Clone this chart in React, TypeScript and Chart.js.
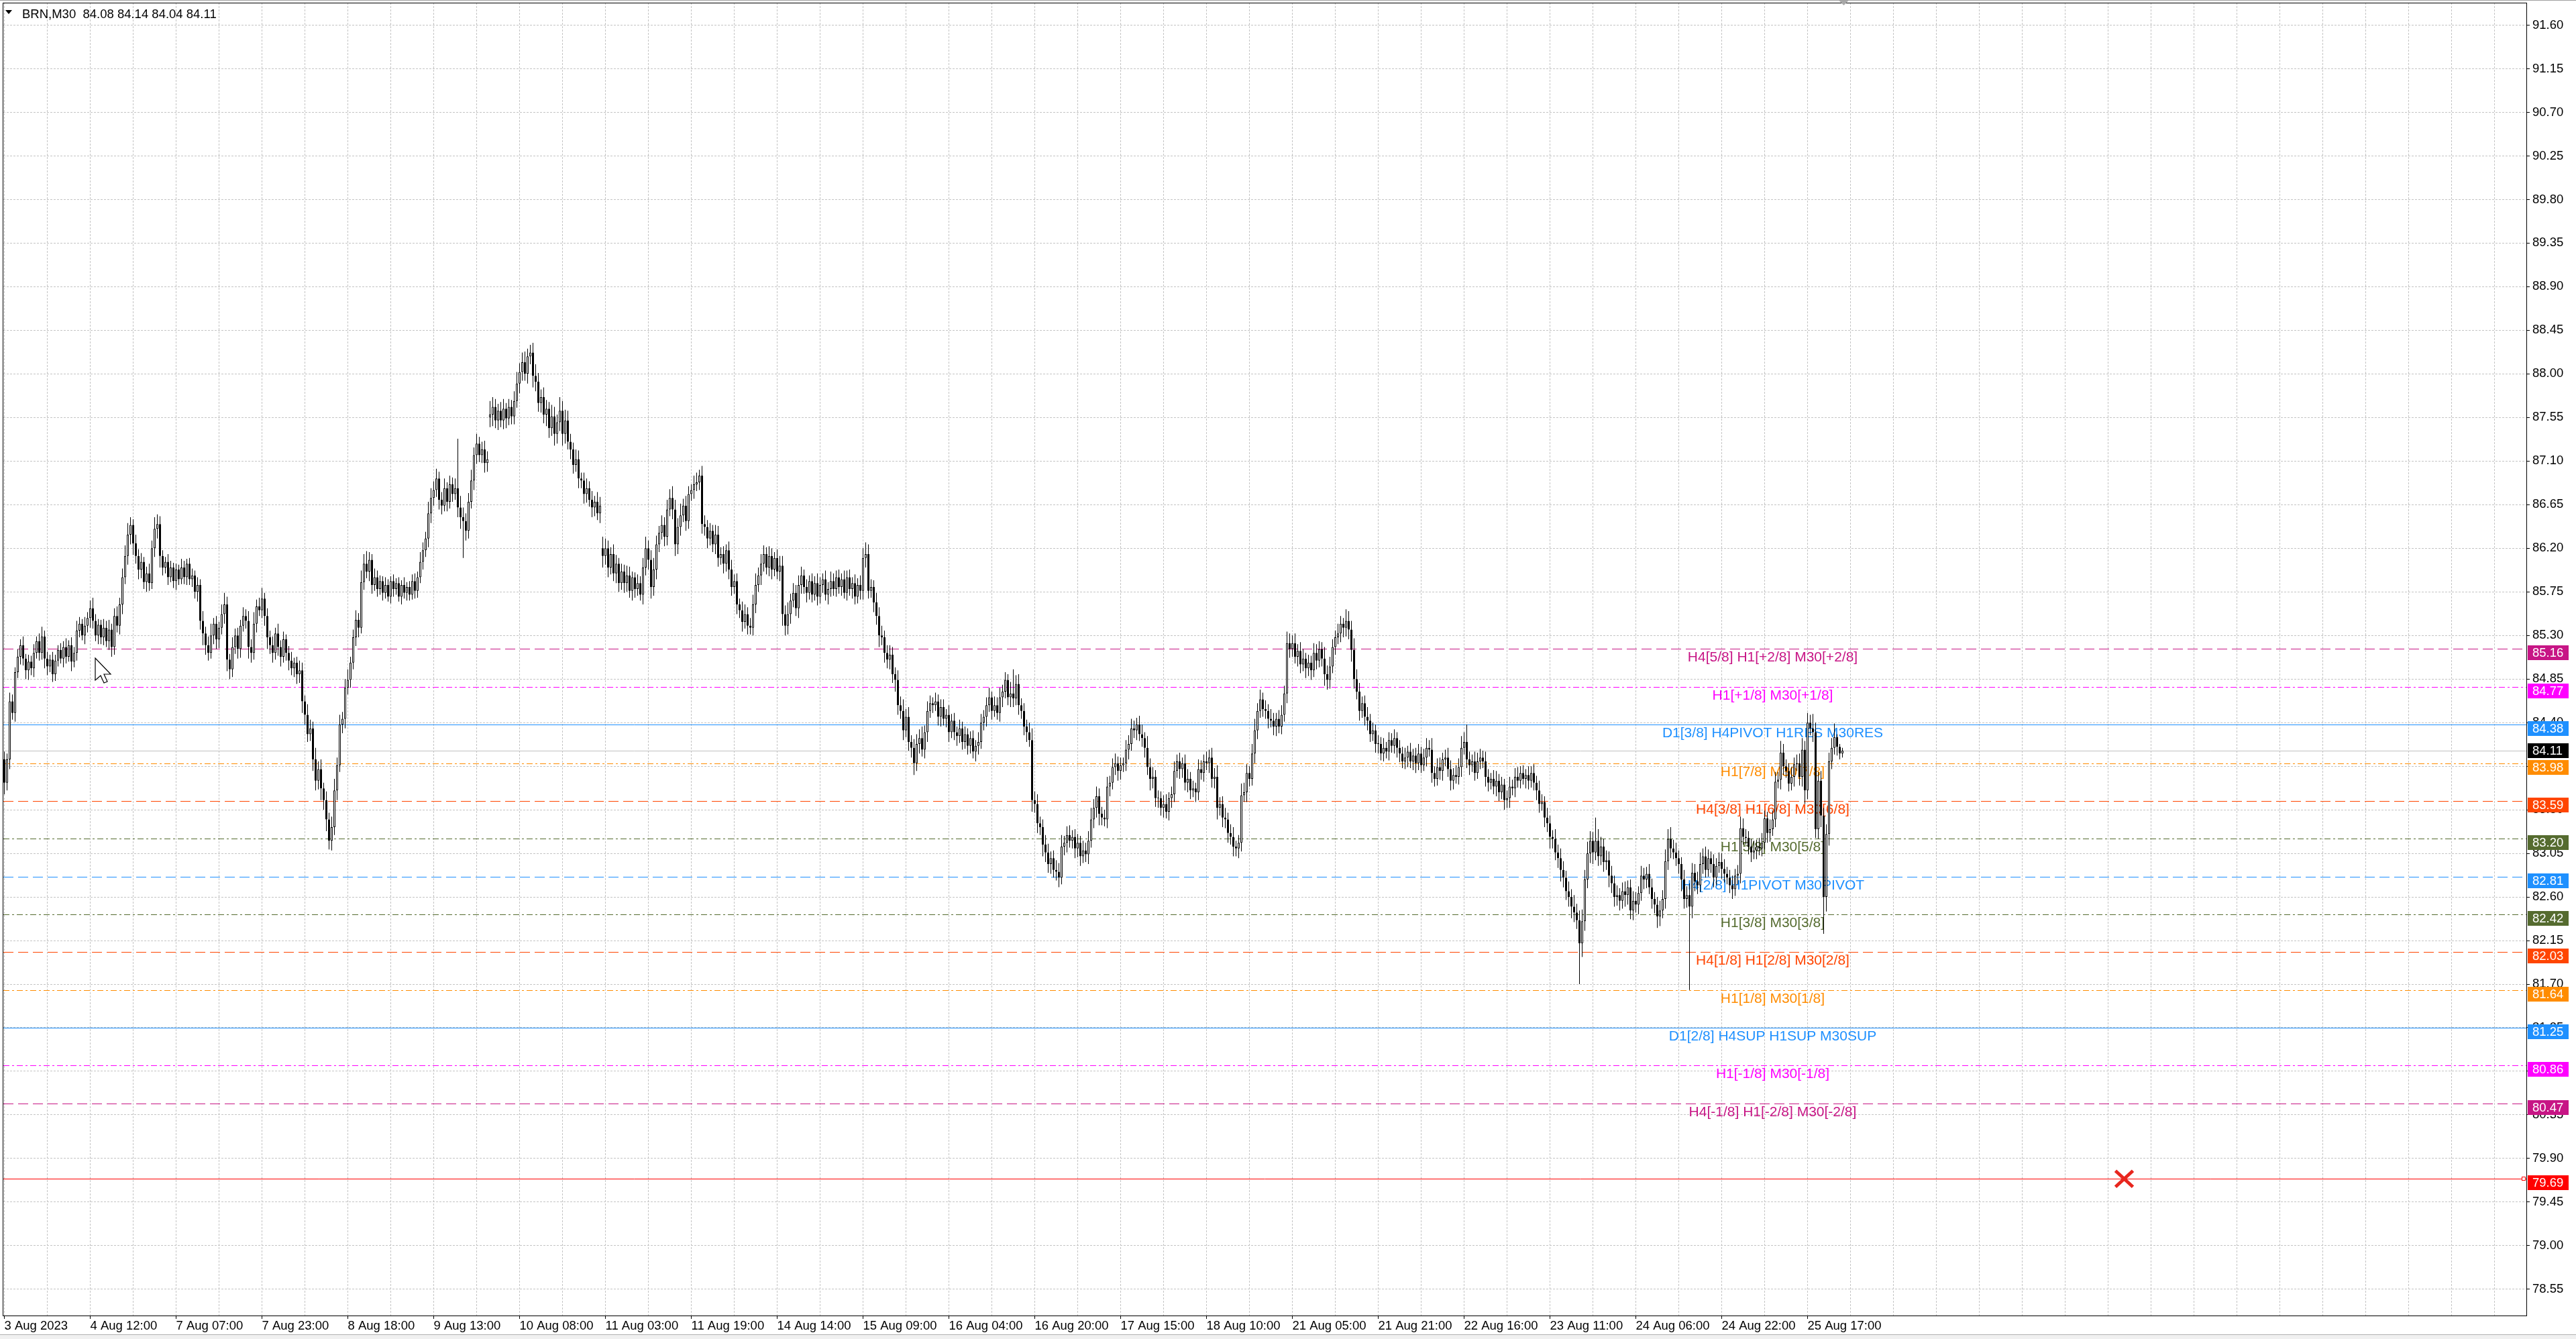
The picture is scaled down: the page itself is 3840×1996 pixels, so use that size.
import { useEffect, useRef } from 'react';
import { Chart, registerables } from 'chart.js';

Chart.register(...registerables);

// ---------------- data ----------------
const headerText = 'BRN,M30  84.08 84.14 84.04 84.11';

// M30 bars, prices in cents
const firstOpenCents = 8402;
const closeCents = [
  8378,8402,8462,8450,8492,8508,8520,8506,8494,8503,
  8496,8512,8524,8512,8529,8506,8498,8505,8490,8504,
  8515,8506,8518,8508,8520,8503,8512,8535,8542,8530,
  8540,8548,8558,8545,8530,8541,8528,8538,8524,8536,
  8518,8550,8540,8562,8590,8612,8634,8644,8625,8612,
  8598,8606,8585,8594,8584,8620,8640,8645,8612,8600,
  8606,8590,8600,8586,8598,8588,8600,8590,8604,8588,
  8592,8575,8582,8545,8532,8520,8512,8530,8542,8526,
  8538,8552,8562,8505,8495,8518,8530,8516,8540,8550,
  8545,8518,8512,8542,8560,8556,8568,8550,8528,8520,
  8512,8532,8518,8508,8526,8512,8504,8496,8502,8490,
  8494,8462,8448,8428,8434,8402,8380,8392,8372,8360,
  8340,8318,8332,8370,8396,8438,8444,8476,8484,8502,
  8528,8546,8538,8585,8604,8596,8608,8582,8590,8578,
  8586,8574,8582,8570,8586,8578,8584,8570,8582,8574,
  8580,8572,8586,8576,8590,8606,8618,8630,8656,8672,
  8680,8692,8670,8664,8682,8668,8686,8676,8682,8662,
  8652,8648,8638,8668,8690,8716,8728,8716,8722,8708,
  8712,8758,8766,8752,8762,8752,8764,8754,8766,8756,
  8772,8790,8802,8812,8800,8818,8822,8798,8792,8770,
  8776,8758,8764,8744,8756,8738,8750,8762,8738,8752,
  8730,8722,8706,8712,8692,8690,8676,8682,8670,8662,
  8668,8656,8664,8612,8620,8600,8614,8594,8604,8584,
  8596,8584,8592,8576,8590,8578,8584,8572,8600,8620,
  8608,8580,8598,8624,8636,8644,8632,8660,8672,8660,
  8624,8642,8654,8664,8648,8676,8680,8686,8688,8695,
  8645,8642,8630,8638,8624,8634,8610,8614,8604,8618,
  8598,8580,8586,8562,8556,8544,8552,8540,8538,8562,
  8582,8592,8604,8614,8600,8612,8598,8610,8596,8602,
  8552,8540,8552,8566,8574,8558,8582,8592,8580,8574,
  8586,8572,8584,8570,8582,8588,8572,8578,8586,8578,
  8590,8580,8588,8574,8590,8578,8584,8570,8582,8576,
  8610,8614,8576,8580,8564,8550,8530,8528,8512,8505,
  8510,8490,8484,8458,8452,8432,8446,8420,8414,8398,
  8418,8424,8412,8430,8452,8460,8458,8462,8446,8456,
  8444,8448,8430,8442,8430,8426,8434,8420,8428,8416,
  8424,8410,8416,8420,8440,8446,8458,8466,8452,8458,
  8450,8466,8472,8484,8466,8470,8465,8480,8458,8452,
  8436,8430,8422,8360,8356,8336,8332,8314,8306,8294,
  8300,8288,8286,8280,8312,8316,8324,8318,8322,8310,
  8316,8302,8308,8304,8318,8340,8352,8364,8346,8342,
  8340,8374,8378,8394,8398,8390,8396,8398,8412,8418,
  8434,8432,8438,8428,8424,8414,8394,8382,8384,8362,
  8362,8352,8356,8348,8362,8366,8390,8400,8392,8398,
  8378,8382,8370,8372,8368,8392,8388,8400,8398,8404,
  8382,8384,8352,8356,8342,8340,8326,8322,8312,8310,
  8316,8365,8368,8388,8382,8408,8432,8452,8464,8454,
  8452,8444,8442,8436,8444,8436,8448,8470,8522,8516,
  8522,8508,8514,8500,8506,8496,8502,8494,8512,8504,
  8516,8506,8490,8484,8498,8518,8528,8532,8542,8538,
  8545,8536,8515,8485,8472,8452,8460,8446,8442,8428,
  8432,8418,8418,8408,8414,8410,8422,8416,8424,8414,
  8408,8400,8404,8410,8400,8406,8398,8408,8396,8404,
  8414,8412,8388,8382,8394,8390,8402,8404,8392,8380,
  8386,8384,8394,8414,8420,8402,8396,8400,8388,8400,
  8404,8400,8384,8378,8382,8374,8380,8368,8376,8360,
  8362,8374,8372,8384,8380,8388,8382,8386,8380,8388,
  8378,8370,8356,8358,8342,8336,8322,8320,8306,8300,
  8288,8280,8266,8260,8250,8244,8236,8212,8235,8278,
  8305,8318,8306,8318,8302,8312,8296,8298,8282,8274,
  8260,8262,8256,8266,8262,8270,8246,8256,8252,8264,
  8282,8278,8284,8270,8258,8252,8240,8246,8258,8297,
  8320,8310,8306,8300,8294,8278,8258,8262,8250,8285,
  8276,8272,8294,8302,8288,8300,8294,8280,8292,8296,
  8289,8284,8280,8272,8268,8282,8284,8331,8322,8321,
  8312,8306,8308,8312,8310,8316,8341,8326,8330,8340,
  8379,8381,8409,8395,8390,8377,8384,8397,8398,8384,
  8412,8370,8440,8434,8430,8330,8380,8344,8260,8325,
  8400,8414,8425,8415,8408,8411,
];
// wick lengths in cents above max(open, close) and below min(open, close)
const upperWickCents = [
  8,6,9,7,5,8,6,9,5,7, 6,9,5,8,10,6,7,5,8,6, 5,7,6,9,5,8,6,10,7,5, 9,6,8,11,7,6,5,9,7,10,
  6,8,10,7,9,11,12,8,6,9, 7,9,5,7,10,8,12,10,8,6, 5,8,7,5,6,5,9,7,5,6, 7,5,8,6,10,7,9,12,6,8,
  6,10,12,8,6,10,7,8,6,9, 7,10,8,12,7,9,11,6,8,7, 9,6,10,7,8,5,7,9,5,6, 10,8,6,11,9,7,12,8,10,6,
  9,7,11,12,8,10,7,9,11,6, 8,10,7,12,10,13,8,6,9,7, 6,5,8,6,5,7,5,6,5,8, 5,6,7,8,6,10,8,7,12,10,
  9,10,7,8,10,6,9,7,10,51, 12,10,8,9,11,8,10,7,8,9, 8,14,10,8,7,9,10,6,8,7, 10,12,9,10,11,8,8,10,12,9,
  8,10,9,7,12,10,8,14,10,11, 10,8,7,10,9,6,8,10,7,9, 6,10,9,12,10,8,7,10,9,6, 8,7,10,9,6,5,9,7,10,12,
  8,10,12,9,7,10,8,10,9,12, 10,9,12,7,10,8,6,9,10,6, 10,9,7,8,6,10,9,7,8,6, 9,10,7,8,6,9,10,7,8,10,
  12,8,10,9,7,10,8,6,9,10, 10,9,12,7,10,8,10,9,6,8, 6,8,7,10,8,6,9,7,10,8, 7,8,6,9,7,8,6,9,7,10,
  10,12,10,8,7,10,9,10,7,8, 10,8,7,10,9,12,8,10,7,9, 10,9,12,7,10,8,6,9,7,8, 8,6,10,7,8,6,9,7,8,6,
  7,8,6,10,9,7,8,10,6,9, 8,10,7,8,6,12,25,9,10,7, 8,7,10,12,9,10,7,8,10,9, 7,8,10,9,12,7,9,10,7,8,
  9,7,10,8,10,12,9,10,8,7, 8,10,7,9,10,7,8,6,10,9, 10,8,7,9,10,6,12,9,10,7, 8,7,9,10,6,8,10,7,9,6,
  9,10,7,8,6,10,9,7,10,8, 10,9,12,7,8,10,7,9,10,6, 8,12,10,9,7,10,12,8,10,7, 9,7,10,8,6,9,10,8,12,10,
  8,10,7,9,10,6,8,7,10,9, 8,7,12,9,10,8,7,10,8,6, 12,10,9,12,10,9,7,8,10,7, 8,6,9,7,10,6,8,7,9,6,
  8,7,10,6,9,7,8,10,7,9, 10,8,12,7,9,10,7,8,10,9, 7,10,9,12,10,18,8,7,10,9, 9,7,10,8,6,9,10,7,8,6,
  8,10,7,9,10,7,8,6,9,7, 9,7,10,8,6,10,8,7,10,8, 10,9,7,10,8,12,9,10,12,10, 12,10,9,24,12,10,8,10,9,10,
  8,10,7,9,10,7,8,10,9,7, 10,8,7,10,9,7,8,10,9,12, 10,12,9,10,8,7,10,9,12,10, 9,10,12,8,10,9,7,10,8,10,
  9,10,7,8,10,7,9,12,10,8, 7,8,10,7,9,10,8,7,10,9, 10,8,12,9,7,8,10,7,9,10, 12,9,10,8,15,10,9,10,8,10,
  9,10,14,3,3,3,
];
const lowerWickCents = [
  12,8,10,7,9,6,8,7,9,10, 7,9,6,8,7,10,9,6,8,7, 6,5,9,7,5,10,6,8,7,5, 9,7,10,8,6,9,7,8,6,9,
  10,8,7,9,10,7,9,10,12,8, 10,9,7,10,8,6,9,10,12,8, 6,8,5,7,9,6,5,7,8,6, 8,7,10,9,12,10,8,6,9,10,
  9,7,10,12,10,8,7,10,9,6, 8,12,10,7,9,6,8,10,12,9, 10,7,9,10,6,8,10,7,9,10, 9,12,10,8,7,12,10,9,12,10,
  12,9,10,8,10,7,9,10,7,8, 7,9,10,6,8,7,10,9,6,8, 6,8,6,5,7,8,6,5,8,6, 8,6,5,8,7,6,8,7,9,10,
  8,7,10,9,6,10,7,8,6,10, 12,38,10,8,7,10,9,7,8,10, 9,10,12,8,10,7,9,10,7,8, 8,7,10,9,7,10,8,12,10,9,
  10,9,12,10,8,12,10,9,12,10, 8,10,9,7,10,8,10,9,7,10, 9,7,10,12,9,10,7,8,10,9, 7,10,9,7,10,9,7,6,10,8,
  10,12,9,10,8,7,10,9,7,10, 12,10,9,7,10,8,7,9,7,8, 10,9,10,7,8,10,9,7,10,8, 10,9,7,10,8,10,7,9,7,8,
  9,7,10,8,7,9,10,7,8,10, 12,10,9,10,7,8,10,9,7,10, 7,8,6,9,7,8,6,10,8,7, 8,7,9,6,8,7,10,8,7,9,
  9,10,8,7,10,9,12,8,10,9, 10,9,12,10,8,10,7,9,10,12, 8,10,7,9,10,7,8,6,9,10, 7,9,10,6,8,10,7,8,7,9,
  8,7,10,9,7,8,10,7,9,6, 7,9,10,7,8,10,9,7,10,8, 9,10,7,12,9,10,8,12,10,9, 10,8,9,10,7,9,10,7,8,10,
  9,10,7,8,10,7,9,10,12,8, 7,9,10,7,8,10,9,7,8,10, 7,8,10,7,9,10,8,12,10,9, 10,8,10,7,9,10,8,7,10,9,
  8,10,9,7,10,8,7,9,7,10, 9,10,12,8,10,9,10,8,10,8, 10,9,7,10,8,7,10,9,7,8, 8,10,7,9,10,7,8,7,10,9,
  8,7,10,9,7,10,8,10,7,9, 7,8,12,10,9,7,8,7,9,10, 9,10,12,10,8,10,7,9,10,8, 7,9,10,7,8,7,9,7,8,10,
  9,7,8,10,7,9,10,7,8,6, 9,7,10,8,7,9,10,7,8,10, 9,7,8,10,7,9,10,7,8,6, 8,7,10,9,7,8,10,9,7,10,
  8,10,7,9,7,8,6,10,9,7, 8,10,9,7,10,9,12,10,8,10, 12,10,9,10,12,10,9,42,14,10, 9,10,12,8,10,9,10,8,12,10,
  10,9,10,8,12,10,9,10,8,10, 8,10,9,7,10,9,12,10,8,10, 9,10,7,8,10,12,10,9,86,12, 10,9,7,10,8,7,9,10,8,7,
  10,9,7,8,10,7,9,10,8,7, 8,10,7,9,7,8,7,10,9,7, 8,7,10,9,7,8,7,10,7,9, 10,14,9,7,10,9,10,12,38,15,
  12,8,7,9,6,4,
];
// bars that opened with a session gap (open in cents)
const gapOpenCents: Record<number, number> = { 181: 8755, 223: 8620 };

const timeLabels = [
  '3 Aug 2023', '4 Aug 12:00', '7 Aug 07:00', '7 Aug 23:00', '8 Aug 18:00', '9 Aug 13:00',
  '10 Aug 08:00', '11 Aug 03:00', '11 Aug 19:00', '14 Aug 14:00', '15 Aug 09:00', '16 Aug 04:00',
  '16 Aug 20:00', '17 Aug 15:00', '18 Aug 10:00', '21 Aug 05:00', '21 Aug 21:00', '22 Aug 16:00',
  '23 Aug 11:00', '24 Aug 06:00', '24 Aug 22:00', '25 Aug 17:00',
];
const barsPerLabel = 32;
const barsPerGrid = 16;

const priceTickFirst = 78.55;
const priceTickStep = 0.45;
const priceTickCount = 30;

const levelPrices = [85.16, 84.77, 84.38, 83.98, 83.59, 83.2, 82.81, 82.42, 82.03, 81.64, 81.25, 80.86, 80.47];
const levelNames = [
  'H4[5/8] H1[+2/8] M30[+2/8]', 'H1[+1/8] M30[+1/8]', 'D1[3/8] H4PIVOT H1RES M30RES',
  'H1[7/8] M30[7/8]', 'H4[3/8] H1[6/8] M30[6/8]', 'H1[5/8] M30[5/8]', 'H4[2/8] H1PIVOT M30PIVOT',
  'H1[3/8] M30[3/8]', 'H4[1/8] H1[2/8] M30[2/8]', 'H1[1/8] M30[1/8]', 'D1[2/8] H4SUP H1SUP M30SUP',
  'H1[-1/8] M30[-1/8]', 'H4[-1/8] H1[-2/8] M30[-2/8]',
];
const levelColors = [
  '#C71585', '#FF00FF', '#1E90FF', '#FF8C00', '#FF4500', '#556B2F', '#1E90FF',
  '#556B2F', '#FF4500', '#FF8C00', '#1E90FF', '#FF00FF', '#C71585',
];
const levelStyles = [
  'dash', 'dashdot', 'solid', 'dashdot', 'dash', 'dashdot', 'dash',
  'dashdot', 'dash', 'dashdot', 'solid', 'dashdot', 'dash',
];
const levelTextBar = 659;

const bidPrice = 84.11;
const stopPrice = 79.69;
const crossMarkBar = 790;
const shiftMarkerBar = 685.5;

// ---------------- derived ----------------
const opens = closeCents.map((c, i) =>
  i === 0 ? firstOpenCents : (gapOpenCents[i] ?? closeCents[i - 1]));
const bodyData = closeCents.map((c, i) => ({ x: i, y: [opens[i] / 100, c / 100] }));
const wickData = closeCents.map((c, i) => ({
  x: i,
  y: [(Math.min(opens[i], c) - lowerWickCents[i]) / 100, (Math.max(opens[i], c) + upperWickCents[i]) / 100],
}));

const X_MIN = -0.375;
const X_MAX = 939.875;
const Y_MIN = 78.279;
const Y_MAX = 91.832;

const priceTicks = Array.from({ length: priceTickCount }, (_, k) =>
  Math.round((priceTickFirst + k * priceTickStep) * 100) / 100);
const gridBars: number[] = [];
for (let v = 0; v <= X_MAX; v += barsPerGrid) gridBars.push(v);

const dashFor = (s: string) => (s === 'dash' ? [15, 7] : s === 'dashdot' ? [9, 4, 3, 4] : []);

const UI_FONT = '"Liberation Sans", Arial, sans-serif';

const overlayPlugin = {
  id: 'mt4Overlay',
  beforeDatasetsDraw(chart: any) {
    const { ctx, chartArea: a } = chart;
    const xs = chart.scales.x;
    const ys = chart.scales.y;
    ctx.save();
    ctx.beginPath();
    ctx.rect(a.left, a.top, a.right - a.left, a.bottom - a.top);
    ctx.clip();
    // horizontal price levels (drawn under the candles)
    const hLine = (price: number, color: string, dash: number[]) => {
      const py = Math.round(ys.getPixelForValue(price)) + 0.5;
      ctx.strokeStyle = color;
      ctx.lineWidth = 1;
      ctx.setLineDash(dash);
      ctx.beginPath();
      ctx.moveTo(a.left, py);
      ctx.lineTo(a.right, py);
      ctx.stroke();
    };
    hLine(bidPrice, '#C0C0C0', []);
    levelPrices.forEach((p, k) => hLine(p, levelColors[k], dashFor(levelStyles[k])));
    hLine(stopPrice, '#FF0000', []);
    ctx.setLineDash([]);
    // level captions
    ctx.font = `21px ${UI_FONT}`;
    ctx.textAlign = 'center';
    ctx.textBaseline = 'alphabetic';
    const cx = xs.getPixelForValue(levelTextBar);
    levelPrices.forEach((p, k) => {
      const py = Math.round(ys.getPixelForValue(p));
      ctx.fillStyle = levelColors[k];
      ctx.fillText(levelNames[k], cx, py + 19);
    });
    ctx.restore();
  },
  afterDraw(chart: any) {
    const { ctx, chartArea: a } = chart;
    const xs = chart.scales.x;
    const ys = chart.scales.y;
    ctx.save();
    // window edges
    ctx.fillStyle = '#A0A0A0';
    ctx.fillRect(0, 0, chart.width, 1);
    ctx.fillStyle = '#F0F0F0';
    ctx.fillRect(0, 1990, chart.width, 6);
    ctx.fillStyle = '#B0B0B0';
    ctx.fillRect(0, 1989, chart.width, 1);
    // chart frame
    ctx.strokeStyle = '#000';
    ctx.lineWidth = 1;
    ctx.setLineDash([]);
    ctx.strokeRect(a.left - 0.5, a.top + 0.5, a.right - a.left + 1, a.bottom - a.top);
    // header
    ctx.fillStyle = '#000';
    ctx.beginPath();
    ctx.moveTo(8, 15); ctx.lineTo(18, 15); ctx.lineTo(13, 21); ctx.closePath();
    ctx.fill();
    ctx.font = `18.5px ${UI_FONT}`;
    ctx.textAlign = 'left';
    ctx.textBaseline = 'alphabetic';
    ctx.fillText(headerText, 33, 27);
    // price tags on the axis
    const tag = (price: number, color: string, centered: boolean) => {
      const py = Math.round(ys.getPixelForValue(price));
      const top = centered ? py - 11 : py - 5;
      ctx.fillStyle = color;
      ctx.fillRect(a.right + 2, top, 61, 22);
      ctx.fillStyle = '#FFFFFF';
      ctx.textBaseline = 'middle';
      ctx.textAlign = 'left';
      ctx.fillText(price.toFixed(2), a.right + 9, top + 11.5);
    };
    levelPrices.forEach((p, k) => tag(p, levelColors[k], false));
    tag(stopPrice, '#FF0000', false);
    tag(bidPrice, '#000000', true);
    // small handle at end of the red line
    const sy = Math.round(ys.getPixelForValue(stopPrice));
    ctx.fillStyle = '#fff';
    ctx.fillRect(a.right - 6, sy - 2, 4, 4);
    ctx.strokeStyle = '#FF0000';
    ctx.strokeRect(a.right - 6.5, sy - 2.5, 5, 5);
    // red cross marker
    const mx = xs.getPixelForValue(crossMarkBar);
    const my = ys.getPixelForValue(stopPrice);
    ctx.strokeStyle = '#E8261E';
    ctx.lineWidth = 5;
    ctx.lineCap = 'butt';
    ctx.beginPath();
    ctx.moveTo(mx - 13, my - 12); ctx.lineTo(mx + 13, my + 12);
    ctx.moveTo(mx + 13, my - 12); ctx.lineTo(mx - 13, my + 12);
    ctx.stroke();
    // chart shift marker
    const tx = xs.getPixelForValue(shiftMarkerBar);
    ctx.fillStyle = '#A8A8A8';
    ctx.beginPath();
    ctx.moveTo(tx - 7, 1); ctx.lineTo(tx + 7, 1); ctx.lineTo(tx, 8); ctx.closePath();
    ctx.fill();
    // mouse cursor
    const cx0 = 142, cy0 = 981;
    const pts = [[0, 0], [0, 33], [8, 26], [13, 37], [18, 35], [13, 24], [23, 24]];
    ctx.beginPath();
    pts.forEach(([px, py], k) => (k === 0 ? ctx.moveTo(cx0 + px, cy0 + py) : ctx.lineTo(cx0 + px, cy0 + py)));
    ctx.closePath();
    ctx.fillStyle = '#FFFFFF';
    ctx.fill();
    ctx.strokeStyle = '#000';
    ctx.lineWidth = 1.2;
    ctx.stroke();
    ctx.restore();
  },
};

export default function App() {
  const ref = useRef<HTMLCanvasElement | null>(null);

  useEffect(() => {
    if (!ref.current) return;
    const datasets: any[] = [
      {
        type: 'bar',
        data: bodyData,
        barThickness: 3,
        grouped: false,
        inflateAmount: 0,
        minBarLength: 1,
        borderWidth: 1,
        borderColor: '#000000',
        borderSkipped: false,
        backgroundColor: (c: any) => {
          const i = c.dataIndex;
          return closeCents[i] >= opens[i] ? '#FFFFFF' : '#000000';
        },
        order: 0,
      },
      {
        type: 'bar',
        data: wickData,
        barThickness: 1,
        grouped: false,
        inflateAmount: 0,
        borderWidth: 0,
        backgroundColor: '#000000',
        order: 1,
      },
    ];

    const chart = new Chart(ref.current, {
      type: 'bar',
      data: { datasets },
      options: {
        responsive: false,
        maintainAspectRatio: false,
        devicePixelRatio: 1,
        animation: false,
        events: [],
        layout: { padding: { left: 5, top: 4, right: 0, bottom: 0 } },
        plugins: { legend: { display: false }, tooltip: { enabled: false } },
        scales: {
          x: {
            type: 'linear',
            min: X_MIN,
            max: X_MAX,
            offset: false,
            afterBuildTicks: (s: any) => { s.ticks = gridBars.map((v) => ({ value: v })); },
            afterFit: (s: any) => { s.height = 35; s.paddingLeft = 0; s.paddingRight = 0; },
            grid: {
              offset: false,
              color: '#C4C4C4',
              lineWidth: 1,
              drawTicks: true,
              tickLength: 5,
              tickBorderDash: [],
              tickColor: (c: any) =>
                c.tick && c.tick.value % barsPerLabel === 0 && c.tick.value / barsPerLabel < timeLabels.length
                  ? '#000000' : 'rgba(0,0,0,0)',
            },
            border: { display: false, dash: [3, 2] },
            ticks: {
              autoSkip: false,
              maxRotation: 0,
              minRotation: 0,
              align: 'start',
              padding: 0,
              color: '#000000',
              font: { family: UI_FONT, size: 18.5 },
              callback: (v: any) => {
                const n = Number(v);
                return n % barsPerLabel === 0 ? (timeLabels[n / barsPerLabel] ?? '') : '';
              },
            },
          },
          y: {
            type: 'linear',
            position: 'right',
            min: Y_MIN,
            max: Y_MAX,
            beginAtZero: false,
            afterBuildTicks: (s: any) => { s.ticks = priceTicks.map((v) => ({ value: v })); },
            afterFit: (s: any) => { s.width = 74; s.paddingTop = 0; s.paddingBottom = 0; },
            grid: {
              color: '#C4C4C4',
              lineWidth: 1,
              drawTicks: true,
              tickLength: 5,
              tickColor: '#000000',
              tickBorderDash: [],
            },
            border: { display: false, dash: [3, 2] },
            ticks: {
              autoSkip: false,
              padding: 4,
              color: '#000000',
              font: { family: UI_FONT, size: 18.5 },
              callback: (v: any) => Number(v).toFixed(2),
            },
          },
        },
      } as any,
      plugins: [overlayPlugin],
    });
    return () => chart.destroy();
  }, []);

  return (
    <div style={{ position: 'fixed', left: 0, top: 0, width: 3840, height: 1996, background: '#FFFFFF' }}>
      <canvas ref={ref} width={3840} height={1996} style={{ display: 'block', width: 3840, height: 1996 }} />
    </div>
  );
}
